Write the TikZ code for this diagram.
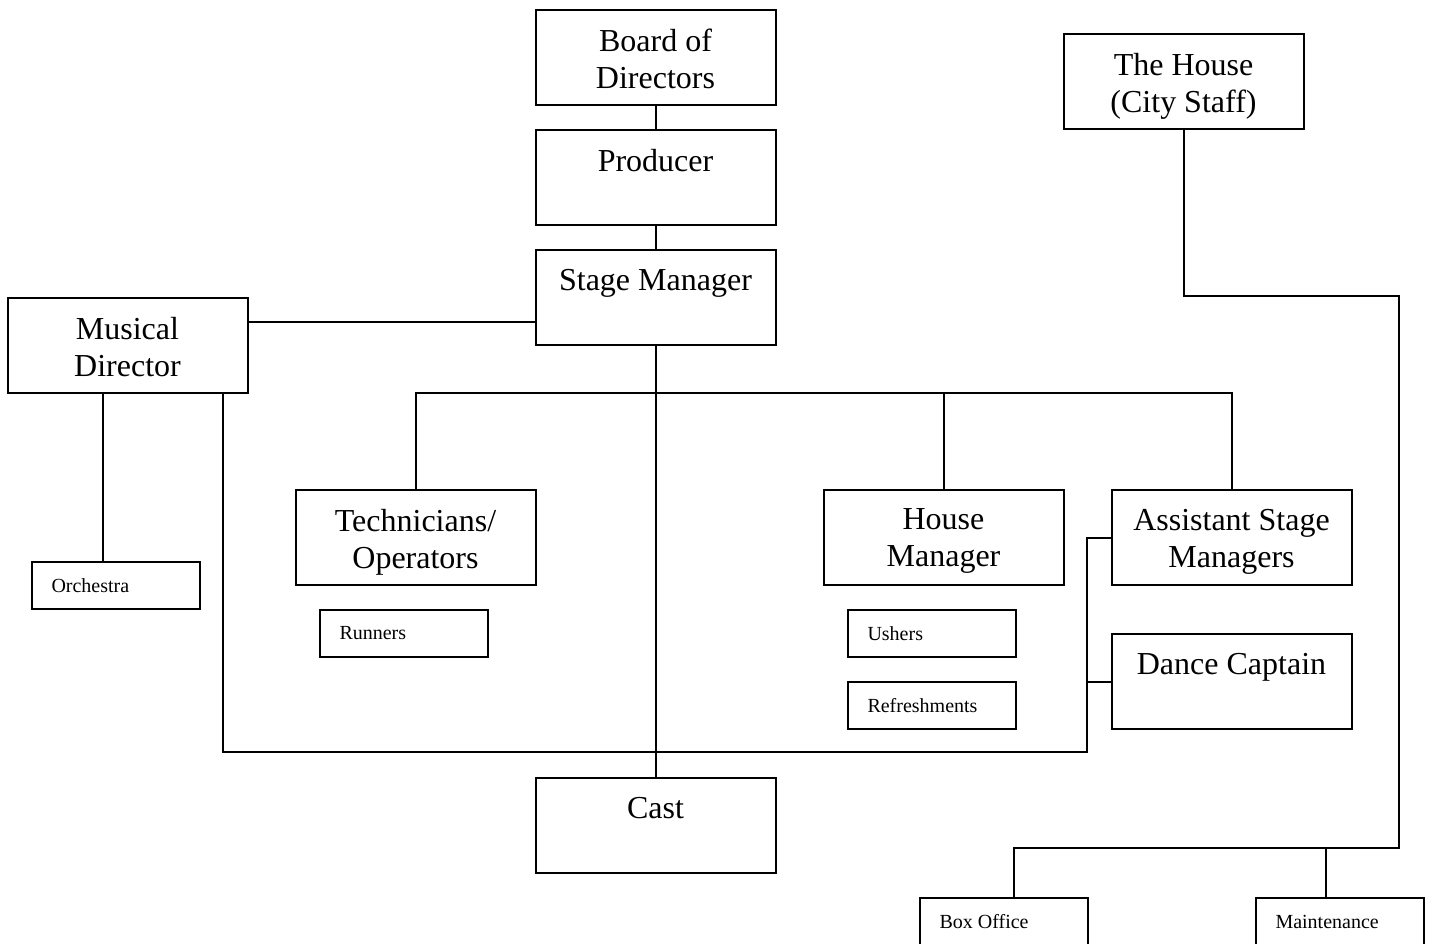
\documentclass[tikz,border=0pt]{standalone}
\usepackage{fontspec}
\setmainfont{Liberation Serif}
\usetikzlibrary{calc}
\begin{document}
\begin{tikzpicture}[x=1pt,y=-1pt,line width=2pt,
  bigtext/.style={anchor=north,yshift=-19pt,align=center,inner sep=0pt,
    font=\fontsize{32}{37}\selectfont},
  bigbox/.style={draw,minimum width=240pt,minimum height=95pt,inner sep=0pt,
    anchor=north west,label={[bigtext]north:{#1}}},
  smallbox/.style={draw,minimum width=168pt,minimum height=47pt,anchor=north west,
    inner xsep=20pt,inner ysep=0pt,text width=128pt,align=left,
    font=\fontsize{20}{24}\selectfont},
  cutbox/.style={draw,minimum width=168pt,minimum height=94pt,anchor=north west,
    inner sep=0pt,label={[anchor=west,xshift=20pt,yshift=23.5pt,inner sep=0pt,
    font=\fontsize{20}{24}\selectfont]west:{#1}}}]
\useasboundingbox (0,0) rectangle (1429,944);
\clip (0,0) rectangle (1429,944);

% main chain
\node[bigbox={Board of\\Directors}] (board) at (534.5,9) {};
\node[bigbox={Producer}] (prod) at (534.5,129) {};
\node[bigbox={Stage Manager}] (sm) at (534.5,249) {};
\node[bigbox={Musical\\Director}] (md) at (6.5,297) {};
\node[bigbox={The House\\(City Staff)}] (house) at (1062.5,33) {};
\node[bigbox={Technicians/\\Operators}] (tech) at (294.5,489) {};
\node[bigbox={House\\Manager}] (hm) at (822.5,489) {};
\node[bigbox={Assistant Stage\\Managers}] (asm) at (1110.5,489) {};
\node[bigbox={Dance Captain}] (dc) at (1110.5,633) {};
\node[bigbox={Cast}] (cast) at (534.5,777) {};

% small boxes
\node[smallbox] (orch) at (30.5,561) {Orchestra};
\node[smallbox] (run) at (318.5,609) {Runners};
\node[smallbox] (ush) at (846.5,609) {Ushers};
\node[smallbox] (ref) at (846.5,681) {Refreshments};
\node[cutbox={Box Office}] (box) at (918.5,897) {};
\node[cutbox={Maintenance}] (maint) at (1254.5,897) {};

% helper points for the routed lines
\coordinate (mdsm) at ($(md.east)!.5!(sm.west)$);
\coordinate (bus) at (654.5,393);
\coordinate (mdo) at (102.5,392);
\coordinate (lp) at (222.5,752);
\coordinate (rp) at (1086.5,752);
\coordinate (hr) at (1398.5,296);
\coordinate (hb) at (1398.5,848);
\coordinate (boxdrop) at (1013.5,848);
\coordinate (maintdrop) at (1325.5,848);

% connectors
\draw (board.south) -- (prod.north);
\draw (prod.south) -- (sm.north);
\draw (md.east |- mdsm) -- (sm.west |- mdsm);
\draw (sm.south) -- (cast.north);
\draw (tech.north) |- (asm.north |- bus) -- (asm.north);
\draw (hm.north) -- (hm.north |- bus);
\draw (md.south -| mdo) -- (orch.north -| mdo);
\draw (md.south -| lp) -- (lp) -- (rp) |- (asm.west);
\draw (dc.west) -- (dc.west -| rp);
\draw (house.south) |- (hr) -- (hb) -- (boxdrop) -- (box.north -| boxdrop);
\draw (maintdrop) -- (maint.north -| maintdrop);
\end{tikzpicture}
\end{document}
